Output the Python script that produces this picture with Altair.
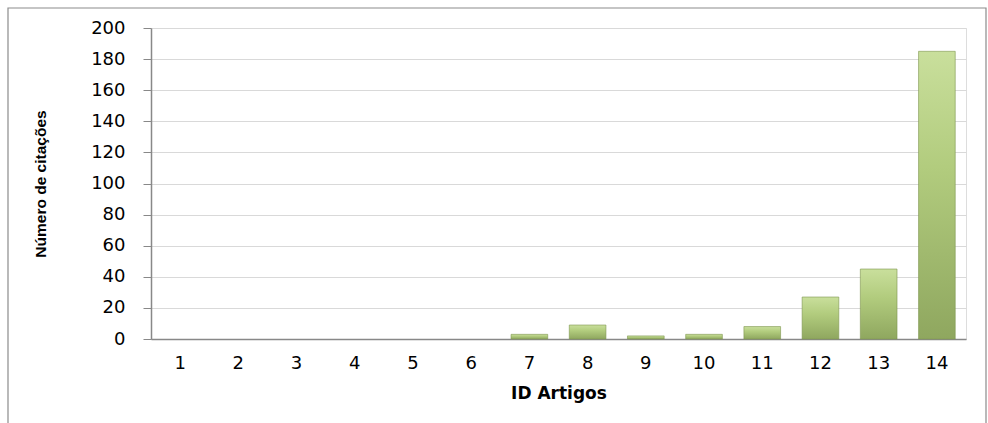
import altair as alt
import pandas as pd

ids = [str(i) for i in range(1, 15)]
citacoes = [0, 0, 0, 0, 0, 0, 3, 9, 2, 3, 8, 27, 45, 185]
y_ticks = list(range(0, 201, 20))

df = pd.DataFrame({"id": ids, "citacoes": citacoes})

W, H = 815, 311

gradient = alt.Gradient(
    gradient="linear",
    stops=[
        alt.GradientStop(color="#c9df9c", offset=0),
        alt.GradientStop(color="#b2cc7e", offset=0.4),
        alt.GradientStop(color="#8fa75f", offset=1),
    ],
    x1=0, x2=0, y1=0, y2=1,
)

bars = alt.Chart(df).mark_bar(
    color=gradient,
    stroke="#7f9650",
    strokeWidth=1,
).encode(
    x=alt.X(
        "id:N",
        sort=ids,
        title="ID Artigos",
        scale=alt.Scale(paddingInner=0.37, paddingOuter=0.185),
        axis=alt.Axis(
            labelAngle=0,
            labelFont="DejaVu Sans",
            labelFontSize=18,
            labelColor="#000000",
            labelPadding=15,
            ticks=False,
            domainColor="#888888",
            domainWidth=1.5,
            titleFont="DejaVu Sans",
            titleFontSize=17,
            titleFontWeight="bold",
            titleColor="#000000",
            titlePadding=13,
        ),
    ),
    y=alt.Y(
        "citacoes:Q",
        title="Número de citações",
        scale=alt.Scale(domain=[0, 200], nice=False),
        axis=alt.Axis(
            values=y_ticks,
            labelFont="DejaVu Sans",
            labelFontSize=18,
            labelColor="#000000",
            labelPadding=18,
            tickSize=8,
            tickColor="#888888",
            domainColor="#888888",
            domainWidth=1.5,
            gridColor="#d9d9d9",
            gridWidth=1,
            titleFont="Liberation Sans",
            titleFontSize=15.5,
            titleFontWeight="bold",
            titleColor="#000000",
            titlePadding=42,
        ),
    ),
    strokeOpacity=alt.condition("datum.citacoes > 0", alt.value(0.6), alt.value(0)),
)

border = alt.Chart(pd.DataFrame({"a": [0]})).mark_rect(
    fill=None, stroke="#8c8c8c", strokeWidth=1.2, clip=False
).encode(
    x=alt.value(-143), x2=alt.value(835),
    y=alt.value(-20), y2=alt.value(420),
)

chart = alt.layer(border, bars).properties(
    width=W, height=H,
    padding={"left": 151, "top": 28, "right": 22, "bottom": 84},
    autosize=alt.AutoSizeParams(type="none"),
).configure_view(stroke=None).configure(background="white")

chart.save("out.html", embed_options={"renderer": "svg", "actions": False})
